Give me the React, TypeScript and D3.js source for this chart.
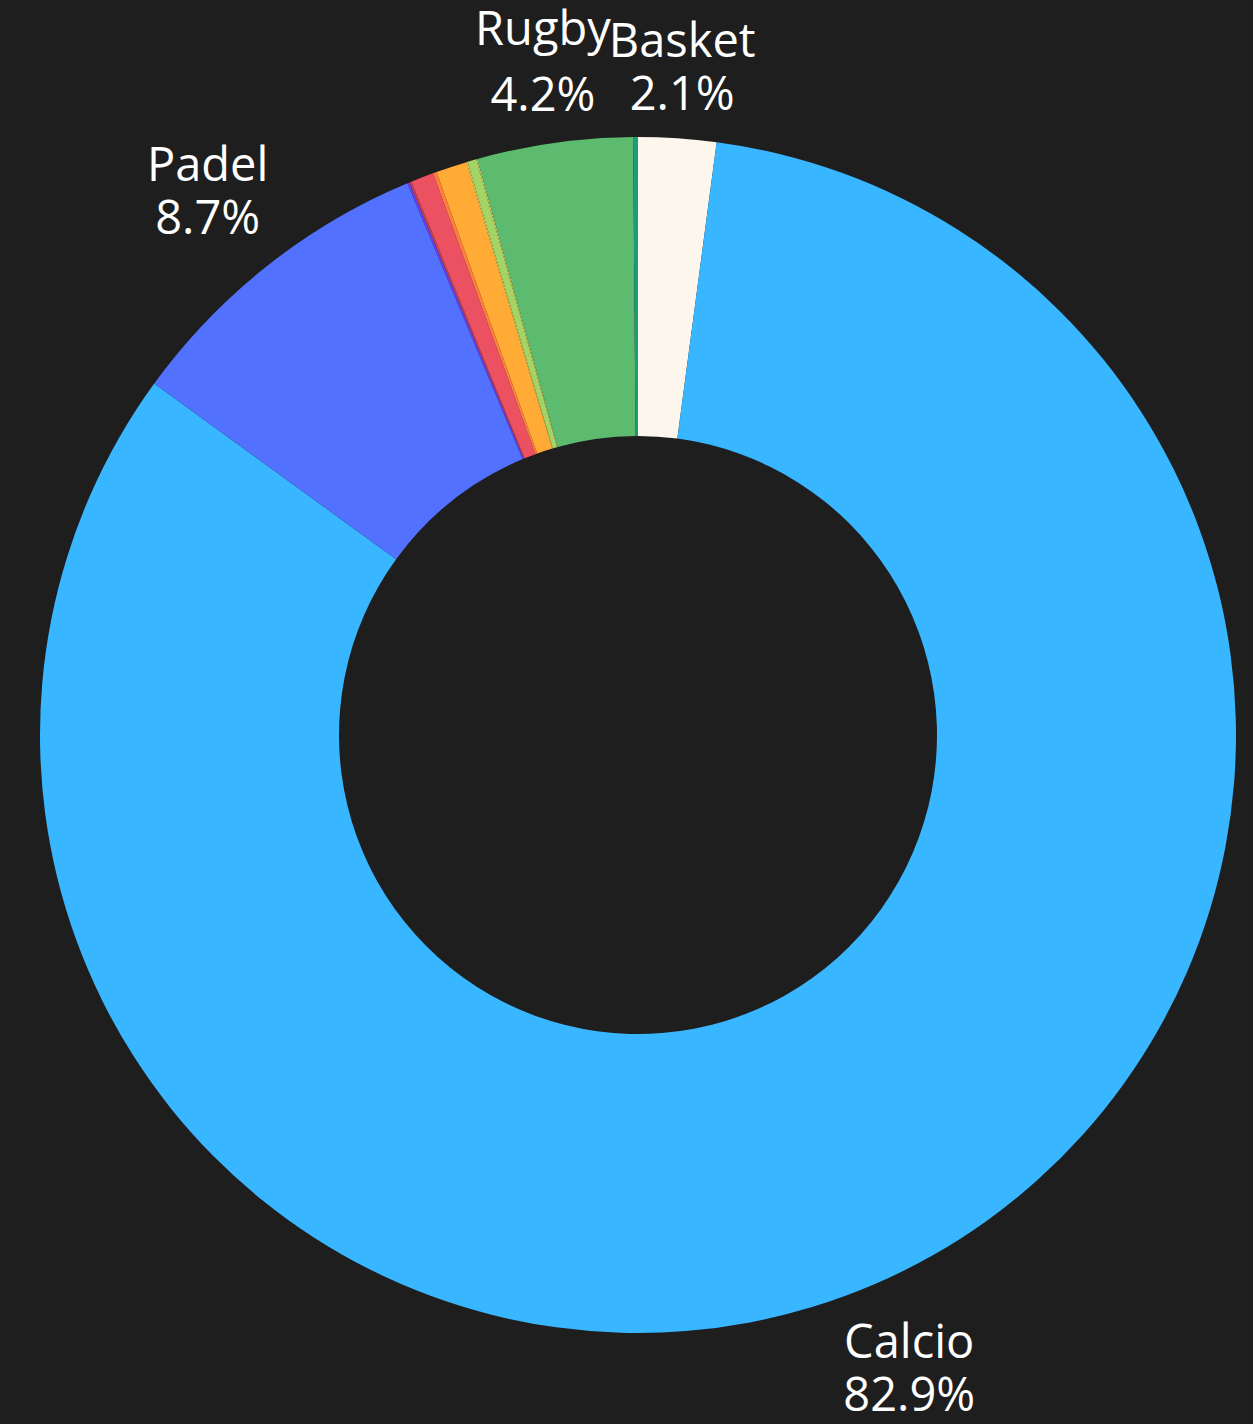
import React, { useEffect, useRef } from 'react';
import * as d3 from 'd3';

const categories = ['Basket', 'Calcio', 'Padel', 'Hockey', 'Tennis', 'Pallavolo', 'Golf', 'Nuoto', 'Sci', 'Ciclismo', 'Scherma', 'Rugby', 'Atletica'];
const values = [2.1, 82.9, 8.7, 0.06, 0.05, 0.62, 0.1, 0.84, 0.03, 0.24, 0.03, 4.2, 0.13];
const colors = ['#fdf6ec', '#38b6ff', '#5271ff', '#6a3cf0', '#c0414f', '#eb5160', '#ff7d3f', '#ffab36', '#e2d35a', '#a4d465', '#d9cf5a', '#5cbb6f', '#1b9e77'];
const labelThreshold = 0.02;

export default function App() {
  const ref = useRef<SVGSVGElement>(null);
  useEffect(() => {
    const svg = d3.select(ref.current);
    svg.selectAll('*').remove();
    const W = 1253, H = 1424, cx = 638, cy = 735, R = 598, r = 299;
    svg.append('rect').attr('width', W).attr('height', H).attr('fill', '#1e1e1e');
    const data = categories.map((c, i) => ({ name: c, value: values[i], color: colors[i] }));
    const total = d3.sum(values);
    const pie = d3.pie<any>().sort(null).value((d: any) => d.value).startAngle(0).endAngle(2 * Math.PI);
    const arcs = pie(data);
    const arc = d3.arc<any>().innerRadius(r).outerRadius(R);
    const g = svg.append('g').attr('transform', `translate(${cx},${cy})`);
    g.selectAll('path').data(arcs).join('path').attr('d', arc as any).attr('fill', (d: any) => d.data.color);
    const fmt = d3.format('.1%');
    arcs.filter((a: any) => a.data.value / total >= labelThreshold).forEach((a: any) => {
      const mid = (a.startAngle + a.endAngle) / 2;
      const sx = Math.sin(mid), sy = -Math.cos(mid);
      const t = g.append('text').attr('fill', '#ffffff').attr('font-family', '"Open Sans", sans-serif').attr('font-size', 47).attr('text-anchor', 'middle');
      const l1 = t.append('tspan').attr('x', 0).text(a.data.name);
      const l2 = t.append('tspan').attr('x', 0).text(fmt(a.data.value / total));
      const w = Math.max((l1.node() as any).getComputedTextLength(), (l2.node() as any).getComputedTextLength());
      const hasDesc = /[gjpqy]/.test(a.data.name);
      const lineGap = 53 + (hasDesc ? 13 : 0), capH = 34, h = lineGap + capH;
      const support = (w / 2) * Math.abs(sx) + (h / 2) * Math.abs(sy);
      const d = R + 24 + support;
      const x = d * sx, y = d * sy;
      l1.attr('x', x).attr('y', y - lineGap / 2 + capH / 2);
      l2.attr('x', x).attr('y', y + lineGap / 2 + capH / 2);
    });
  }, []);
  return <svg ref={ref} width={1253} height={1424} style={{ position: 'absolute', left: 0, top: 0, display: 'block' }} />;
}
